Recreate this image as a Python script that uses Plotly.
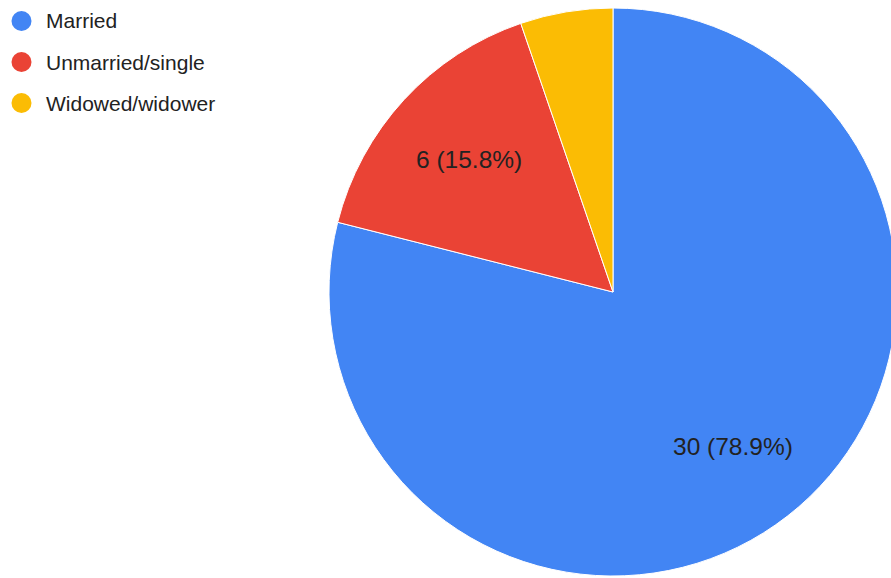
import math
import plotly.graph_objects as go

# Marital status counts
labels = ["Married", "Unmarried/single", "Widowed/widower"]
counts = [30, 6, 2]
colors = ["#4285F4", "#EA4335", "#FBBC04"]
show_label = [True, True, False]

W, H = 910, 590
cx, cy, r = 613, 292, 284  # pie centre and radius in pixels

def px_x(x):
    return x / W

def px_y(y):
    return 1 - y / H

fig = go.Figure(
    go.Pie(
        labels=labels,
        values=counts,
        marker=dict(colors=colors, line=dict(color="white", width=1)),
        sort=False,
        direction="clockwise",
        rotation=0,
        textinfo="none",
        hoverinfo="skip",
        showlegend=False,
        domain=dict(x=[px_x(cx - r), px_x(cx + r)], y=[px_y(cy + r), px_y(cy - r)]),
    )
)

# Slice labels placed along each slice's middle angle
total = sum(counts)
start = 0.0
annotations = []
for lab, val, show in zip(labels, counts, show_label):
    frac = val / total
    mid = (start + frac / 2) * 2 * math.pi
    start += frac
    if not show:
        continue
    lx = cx + 0.69 * r * math.sin(mid)
    ly = cy - 0.69 * r * math.cos(mid)
    annotations.append(dict(
        x=px_x(lx), y=px_y(ly), xref="paper", yref="paper",
        text=f"{val} ({frac * 100:.1f}%)", showarrow=False,
        font=dict(family="Liberation Sans, Arial", size=24.5, color="#222222"),
        xanchor="center", yanchor="middle",
    ))

# Legend with round markers
shapes = []
for i, (lab, col) in enumerate(zip(labels, colors)):
    y = 21 + 41 * i
    shapes.append(dict(
        type="circle", xref="paper", yref="paper",
        x0=px_x(11.5), x1=px_x(31.5), y0=px_y(y + 10), y1=px_y(y - 10),
        fillcolor=col, line=dict(width=0),
    ))
    annotations.append(dict(
        x=px_x(44), y=px_y(y), xref="paper", yref="paper",
        text=lab, showarrow=False, xanchor="left", yanchor="middle",
        font=dict(family="Liberation Sans, Arial", size=21, color="#222222"),
    ))

fig.update_layout(
    width=W, height=H,
    margin=dict(l=0, r=0, t=0, b=0),
    paper_bgcolor="white", plot_bgcolor="white",
    shapes=shapes, annotations=annotations,
)

fig.write_html(
    "out.html",
    config={"displayModeBar": False},
    post_script="document.body.style.margin='0';document.body.style.overflow='hidden';"
                "document.documentElement.style.overflow='hidden';",
)
